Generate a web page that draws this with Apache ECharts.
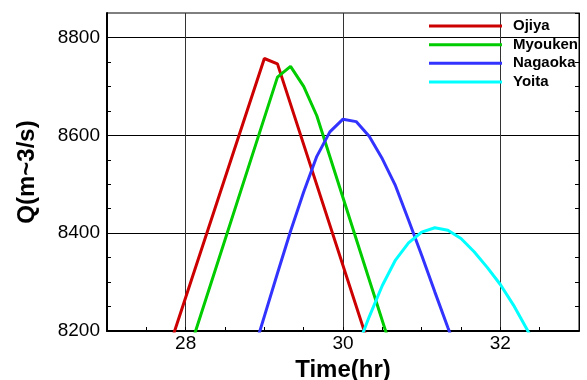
<!DOCTYPE html>
<html>
<head>
<meta charset="utf-8">
<script src="https://cdn.jsdelivr.net/npm/echarts@6/dist/echarts.min.js"></script>
<style>html,body{margin:0;padding:0;background:#fff;}#c{width:587px;height:380px;}</style>
</head>
<body>
<div id="c"></div>
<script>
// Series names
var seriesNames = ['Ojiya', 'Myouken', 'Nagaoka', 'Yoita'];
// Ojiya
var ojiyaT = [27.833, 29.0, 29.167, 30.333];
var ojiyaQ = [8187, 8757, 8746, 8169];
// Myouken
var myoukenT = [28.0, 29.167, 29.333, 29.5, 29.667, 30.667];
var myoukenQ = [8137, 8719, 8741, 8700, 8640, 8137];
// Nagaoka
var nagaokaT = [28.833, 29.0, 29.167, 29.333, 29.5, 29.667, 29.833, 30.0, 30.167, 30.333, 30.5, 30.667, 30.833, 31.0, 31.167, 31.333, 31.5];
var nagaokaQ = [8142, 8230, 8318, 8404, 8484, 8557, 8607, 8633, 8628, 8598, 8552, 8497, 8427, 8355, 8280, 8207, 8135];
// Yoita
var yoitaT = [30.167, 30.333, 30.5, 30.667, 30.833, 31.0, 31.167, 31.333, 31.5, 31.667, 31.833, 32.0, 32.167, 32.333, 32.5];
var yoitaQ = [8160, 8229, 8293, 8345, 8380, 8402, 8411, 8406, 8389, 8362, 8330, 8295, 8253, 8205, 8155];
// Tick labels
var xTickLabels = [28, 30, 32];
var yTickLabels = [8200, 8400, 8600, 8800];

var colors = ['#cc0000', '#00cc00', '#3333ff', '#00ffff'];
var allT = [ojiyaT, myoukenT, nagaokaT, yoitaT];
var allQ = [ojiyaQ, myoukenQ, nagaokaQ, yoitaQ];

function pairs(t, q) { return t.map(function (v, i) { return [v, q[i]]; }); }

var FONT = '"Liberation Sans", Arial, sans-serif';
var chart = echarts.init(document.getElementById('c'), null, { renderer: 'canvas' });

var series = seriesNames.map(function (n, i) {
  return {
    name: n, type: 'line', data: pairs(allT[i], allQ[i]),
    showSymbol: false, symbol: 'none', clip: true, smooth: false,
    lineStyle: { color: colors[i], width: 3 }, itemStyle: { color: colors[i] },
    z: 3
  };
});

var T = 'rgba(0,0,0,0)';
chart.setOption({
  animation: false,
  backgroundColor: '#fff',
  grid: { left: 107, top: 13, right: 8, bottom: 49, containLabel: false, outerBoundsMode: 'none', show: true, borderColor: '#000', borderWidth: 1, backgroundColor: 'transparent' },
  legend: {
    orient: 'vertical', left: 429, top: 17, padding: 0, itemGap: 0.67,
    icon: 'rect', itemWidth: 73, itemHeight: 3,
    textStyle: { fontFamily: FONT, fontSize: 15, fontWeight: 'bold', color: '#000', lineHeight: 18, padding: [0, 0, 0, 6] },
    data: seriesNames
  },
  xAxis: [{
    type: 'value', min: 27, max: 33, interval: 0.5,
    name: 'Time(hr)', nameLocation: 'middle', nameGap: 24,
    nameTextStyle: { fontFamily: FONT, fontSize: 24, fontWeight: 'bold', color: '#000' },
    axisLine: { show: true, onZero: false, lineStyle: { color: '#000', width: 2 } },
    axisTick: { show: true, inside: true, length: 4, lineStyle: { color: '#000', width: 1 } },
    axisLabel: {
      fontFamily: FONT, fontSize: 19, color: '#000', margin: 3,
      formatter: function (v) { return xTickLabels.indexOf(v) >= 0 ? String(v) : ''; }
    },
    splitLine: { show: true, lineStyle: { color: [T, T, '#333', T], width: 1 } }
  }],
  yAxis: [{
    type: 'value', min: 8200, max: 8850, interval: 50,
    name: 'Q(m~3/s)', nameLocation: 'middle', nameGap: 68, nameRotate: 90,
    nameTextStyle: { fontFamily: FONT, fontSize: 24, fontWeight: 'bold', color: '#000' },
    axisLine: { show: true, lineStyle: { color: '#000', width: 2 } },
    axisTick: { show: true, inside: true, length: 4, lineStyle: { color: '#000', width: 1 } },
    axisLabel: {
      fontFamily: FONT, fontSize: 19, color: '#000', margin: 7, showMaxLabel: false,
      formatter: function (v) { return yTickLabels.indexOf(v) >= 0 ? String(v) : ''; }
    },
    splitLine: { show: true, lineStyle: { color: ['#000', T, T, T], width: 1 } }
  }, {
    type: 'value', min: 8200, max: 8850, interval: 50, position: 'right',
    axisLine: { show: true, lineStyle: { color: '#000', width: 1 } },
    axisTick: { show: true, inside: true, length: 4, lineStyle: { color: '#000', width: 1 } },
    axisLabel: { show: false },
    splitLine: { show: false }
  }],
  series: series
});
</script>
</body>
</html>
